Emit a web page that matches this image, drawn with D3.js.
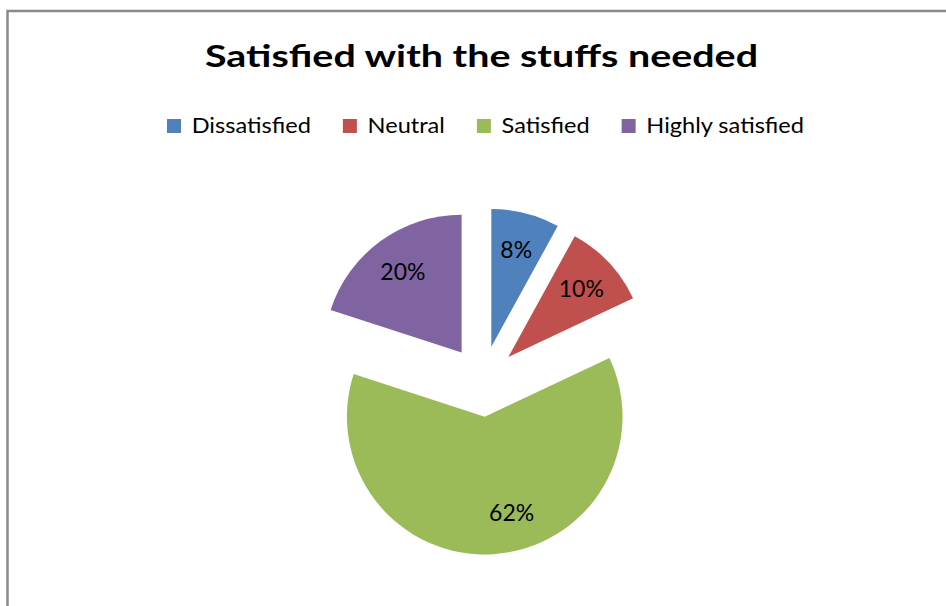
<!DOCTYPE html>
<html>
<head>
<meta charset="utf-8">
<script src="https://cdn.jsdelivr.net/npm/d3@7"></script>
<style>
  html, body { margin: 0; padding: 0; background: #fff; }
  svg { display: block; }
  text { font-family: Lato, "Open Sans", "Liberation Sans", sans-serif; fill: #000; }
</style>
</head>
<body>
<svg id="chart" width="946" height="606"></svg>
<script>
// Survey answers: satisfaction with the stuffs needed (percent)
const categories = ["Dissatisfied", "Neutral", "Satisfied", "Highly satisfied"];
const shares = [8, 10, 62, 20];
const sliceColors = ["#4F81BD", "#C0504D", "#9BBB59", "#8064A2"];
const chartTitle = "Satisfied with the stuffs needed";

const svg = d3.select("#chart");
const W = 946, H = 606;

// chart frame (its right and bottom edges run past the page)
svg.append("rect")
  .attr("x", 7.5).attr("y", 11)
  .attr("width", W + 40).attr("height", H + 40)
  .attr("fill", "#fff")
  .attr("stroke", "#8a8a8a")
  .attr("stroke-width", 2.5);

// title
const title = svg.append("text")
  .attr("x", 481.5).attr("y", 67.3)
  .attr("text-anchor", "middle")
  .attr("font-size", 31)
  .attr("font-weight", 700)
  .text(chartTitle);
title.attr("textLength", 553).attr("lengthAdjust", "spacingAndGlyphs");

// legend: one row, swatch + label per category
const legendFont = 22, swatch = 14, swatchGap = 10.7, itemGap = 32;
const legendLeft = 167, legendRight = 804, legendBaseline = 133.3;
const legend = svg.append("g");
const items = legend.selectAll("g").data(categories).join("g");
items.append("rect")
  .attr("width", swatch).attr("height", swatch)
  .attr("fill", (d, i) => sliceColors[i]);
items.append("text")
  .attr("font-size", legendFont)
  .text(d => d);
const natural = [];
items.select("text").each(function() { natural.push(this.getComputedTextLength()); });
const naturalTotal = d3.sum(natural);
const fixedTotal = categories.length * (swatch + swatchGap) + (categories.length - 1) * itemGap;
const k = (legendRight - legendLeft - fixedTotal) / naturalTotal;
let cursor = legendLeft;
items.each(function(d, i) {
  const g = d3.select(this);
  const tw = natural[i] * k;
  g.select("rect").attr("x", cursor).attr("y", 119);
  g.select("text")
    .attr("x", cursor + swatch + swatchGap)
    .attr("y", legendBaseline)
    .attr("textLength", tw)
    .attr("lengthAdjust", "spacingAndGlyphs");
  cursor += swatch + swatchGap + tw + itemGap;
});

// exploded pie
const cx = 482.5, cy = 381.2, radius = 137.8, explode = 35.5, labelRadius = 100;
const pie = d3.pie().sort(null).value(d => d)(shares);
const arc = d3.arc().innerRadius(0).outerRadius(radius);
const mid = d => (d.startAngle + d.endAngle) / 2;
// the big slice's label sits a little towards its right-hand side
const labelTurn = [0, 0, -12 * Math.PI / 180, 0];

const slices = svg.append("g").attr("transform", `translate(${cx},${cy})`)
  .selectAll("g").data(pie).join("g")
  .attr("transform", d => {
    const a = mid(d);
    return `translate(${explode * Math.sin(a)},${-explode * Math.cos(a)})`;
  });

slices.append("path")
  .attr("d", arc)
  .attr("fill", (d, i) => sliceColors[i]);

const labelFont = 23;
slices.append("text")
  .attr("font-size", labelFont)
  .attr("text-anchor", "middle")
  .attr("x", (d, i) => labelRadius * Math.sin(mid(d) + labelTurn[i]))
  .attr("y", (d, i) => -labelRadius * Math.cos(mid(d) + labelTurn[i]) + labelFont * 0.36)
  .text(d => d.data + "%");
</script>
</body>
</html>
